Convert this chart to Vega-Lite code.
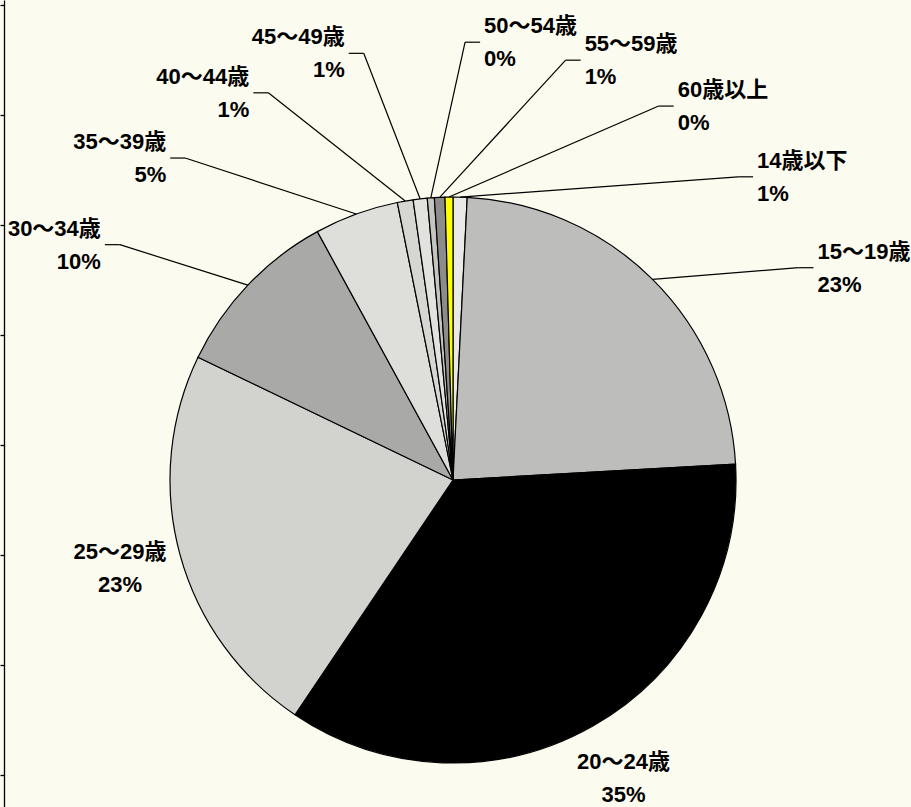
{
  "$schema": "https://vega.github.io/schema/vega-lite/v6.json",
  "width": 911,
  "height": 807,
  "padding": 0,
  "autosize": {"type": "none"},
  "background": "#fcfbef",
  "config": {"view": {"stroke": null}},
  "data": {
    "values": [
      {"age": "14歳以下", "value": 0.8, "order": 1},
      {"age": "15～19歳", "value": 23.3, "order": 2},
      {"age": "20～24歳", "value": 35.3, "order": 3},
      {"age": "25～29歳", "value": 22.7, "order": 4},
      {"age": "30～34歳", "value": 9.9, "order": 5},
      {"age": "35～39歳", "value": 4.8, "order": 6},
      {"age": "40～44歳", "value": 0.9, "order": 7},
      {"age": "45～49歳", "value": 0.8, "order": 8},
      {"age": "50～54歳", "value": 0.4, "order": 9},
      {"age": "55～59歳", "value": 0.6, "order": 10},
      {"age": "60歳以上", "value": 0.45, "order": 11}
    ]
  },
  "transform": [
    {"joinaggregate": [{"op": "sum", "field": "value", "as": "total"}]},
    {"window": [{"op": "sum", "field": "value", "as": "cum"}], "sort": [{"field": "order"}], "frame": [null, 0]},
    {"calculate": "(datum.cum - datum.value / 2) / datum.total * 2 * PI", "as": "mid"},
    {"calculate": "datum.mid > PI ? datum.mid - 2 * PI : datum.mid", "as": "s"},
    {"calculate": "abs(datum.s) < 1.35", "as": "top"},
    {"window": [{"op": "row_number", "as": "k"}], "groupby": ["top"], "sort": [{"field": "s"}]},
    {"joinaggregate": [{"op": "count", "as": "n"}], "groupby": ["top"]},
    {"calculate": "datum.top ? -1.0036 + (datum.k - 1) * 2.0684 / (datum.n - 1) : datum.mid", "as": "la"},
    {"calculate": "283 * sin(datum.mid)", "as": "sx"},
    {"calculate": "283 * cos(datum.mid)", "as": "sy"},
    {"calculate": "395 * sin(datum.la)", "as": "ex"},
    {"calculate": "438 * cos(datum.la)", "as": "ey"},
    {"calculate": "datum.ex < 0 ? -1 : 1", "as": "side"},
    {"calculate": "datum.ex + 15 * datum.side", "as": "ex2"},
    {"calculate": "datum.top ? datum.ex2 + 4 * datum.side : 345 * sin(datum.mid)", "as": "tx"},
    {"calculate": "datum.top ? datum.ey : 345 * cos(datum.mid)", "as": "ty"},
    {"calculate": "datum.age + '\\n' + format(datum.value / 100, '.0%')", "as": "lab"}
  ],
  "layer": [
    {
      "mark": {"type": "arc", "outerRadius": 283, "stroke": "#000000", "strokeWidth": 1.2},
      "encoding": {
        "theta": {"field": "value", "type": "quantitative", "stack": true},
        "order": {"field": "order", "type": "quantitative"},
        "color": {
          "field": "age",
          "type": "nominal",
          "legend": null,
          "scale": {
            "domain": ["14歳以下", "15～19歳", "20～24歳", "25～29歳", "30～34歳", "35～39歳", "40～44歳", "45～49歳", "50～54歳", "55～59歳", "60歳以上"],
            "range": ["#e9e9e6", "#bdbdbb", "#000000", "#d2d2cf", "#a9a9a7", "#dededb", "#d6d6d3", "#e2e2df", "#c4c4c1", "#8c8c8a", "#ffff00"]
          }
        },
        "x": {"datum": 0, "type": "quantitative", "scale": {"domain": [-453, 458], "nice": false, "zero": false}, "axis": null},
        "y": {"datum": 0, "type": "quantitative", "scale": {"domain": [-327, 480], "nice": false, "zero": false},
              "axis": {"orient": "left", "values": [475, 365, 255, 145, 35, -75, -185, -295], "labels": false, "title": null, "grid": false, "domainColor": "#000000", "tickColor": "#000000", "tickSize": 4, "offset": -4, "domainWidth": 1.3, "tickWidth": 1.3}}
      }
    },
    {
      "transform": [{"filter": "datum.top"}],
      "mark": {"type": "rule", "color": "#000000", "strokeWidth": 1.2},
      "encoding": {
        "x": {"field": "sx", "type": "quantitative", "scale": {"domain": [-453, 458], "nice": false, "zero": false}, "axis": null},
        "y": {"field": "sy", "type": "quantitative", "scale": {"domain": [-327, 480], "nice": false, "zero": false},
              "axis": {"orient": "left", "values": [475, 365, 255, 145, 35, -75, -185, -295], "labels": false, "title": null, "grid": false, "domainColor": "#000000", "tickColor": "#000000", "tickSize": 4, "offset": -4, "domainWidth": 1.3, "tickWidth": 1.3}},
        "x2": {"field": "ex"},
        "y2": {"field": "ey"}
      }
    },
    {
      "transform": [{"filter": "datum.top"}],
      "mark": {"type": "rule", "color": "#000000", "strokeWidth": 1.2},
      "encoding": {
        "x": {"field": "ex", "type": "quantitative", "scale": {"domain": [-453, 458], "nice": false, "zero": false}, "axis": null},
        "y": {"field": "ey", "type": "quantitative", "scale": {"domain": [-327, 480], "nice": false, "zero": false},
              "axis": {"orient": "left", "values": [475, 365, 255, 145, 35, -75, -185, -295], "labels": false, "title": null, "grid": false, "domainColor": "#000000", "tickColor": "#000000", "tickSize": 4, "offset": -4, "domainWidth": 1.3, "tickWidth": 1.3}},
        "x2": {"field": "ex2"},
        "y2": {"field": "ey"}
      }
    },
    {
      "transform": [{"filter": "datum.top && datum.ex >= 0"}],
      "mark": {"type": "text", "align": "left", "baseline": "middle", "dy": -16, "font": "Liberation Sans, Noto Sans CJK JP", "fontSize": 22, "fontWeight": "bold", "lineHeight": 33, "lineBreak": "\n", "color": "#000000"},
      "encoding": {
        "x": {"field": "tx", "type": "quantitative", "scale": {"domain": [-453, 458], "nice": false, "zero": false}, "axis": null},
        "y": {"field": "ty", "type": "quantitative", "scale": {"domain": [-327, 480], "nice": false, "zero": false},
              "axis": {"orient": "left", "values": [475, 365, 255, 145, 35, -75, -185, -295], "labels": false, "title": null, "grid": false, "domainColor": "#000000", "tickColor": "#000000", "tickSize": 4, "offset": -4, "domainWidth": 1.3, "tickWidth": 1.3}},
        "text": {"field": "lab", "type": "nominal"}
      }
    },
    {
      "transform": [{"filter": "datum.top && datum.ex < 0"}],
      "mark": {"type": "text", "align": "right", "baseline": "middle", "dy": -16, "font": "Liberation Sans, Noto Sans CJK JP", "fontSize": 22, "fontWeight": "bold", "lineHeight": 33, "lineBreak": "\n", "color": "#000000"},
      "encoding": {
        "x": {"field": "tx", "type": "quantitative", "scale": {"domain": [-453, 458], "nice": false, "zero": false}, "axis": null},
        "y": {"field": "ty", "type": "quantitative", "scale": {"domain": [-327, 480], "nice": false, "zero": false},
              "axis": {"orient": "left", "values": [475, 365, 255, 145, 35, -75, -185, -295], "labels": false, "title": null, "grid": false, "domainColor": "#000000", "tickColor": "#000000", "tickSize": 4, "offset": -4, "domainWidth": 1.3, "tickWidth": 1.3}},
        "text": {"field": "lab", "type": "nominal"}
      }
    },
    {
      "transform": [{"filter": "!datum.top"}],
      "mark": {"type": "text", "align": "center", "baseline": "middle", "dy": -18, "font": "Liberation Sans, Noto Sans CJK JP", "fontSize": 22, "fontWeight": "bold", "lineHeight": 33, "lineBreak": "\n", "color": "#000000"},
      "encoding": {
        "x": {"field": "tx", "type": "quantitative", "scale": {"domain": [-453, 458], "nice": false, "zero": false}, "axis": null},
        "y": {"field": "ty", "type": "quantitative", "scale": {"domain": [-327, 480], "nice": false, "zero": false},
              "axis": {"orient": "left", "values": [475, 365, 255, 145, 35, -75, -185, -295], "labels": false, "title": null, "grid": false, "domainColor": "#000000", "tickColor": "#000000", "tickSize": 4, "offset": -4, "domainWidth": 1.3, "tickWidth": 1.3}},
        "text": {"field": "lab", "type": "nominal"}
      }
    }
  ]
}
